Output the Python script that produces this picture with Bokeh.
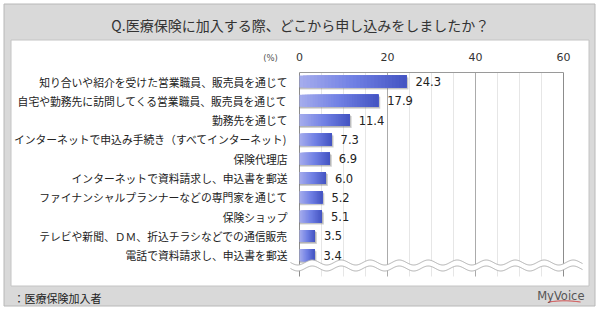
import numpy as np
from bokeh.plotting import figure
from bokeh.models import Range1d, ColumnDataSource
from bokeh.core.properties import value
from bokeh.embed import file_html
from bokeh.resources import INLINE

# ---------------- data ----------------
title_text = "Q.医療保険に加入する際、どこから申し込みをしましたか？"
categories = [
    "知り合いや紹介を受けた営業職員、販売員を通じて",
    "自宅や勤務先に訪問してくる営業職員、販売員を通じて",
    "勤務先を通じて",
    "インターネットで申込み手続き（すべてインターネット)",
    "保険代理店",
    "インターネットで資料請求し、申込書を郵送",
    "ファイナンシャルプランナーなどの専門家を通じて",
    "保険ショップ",
    "テレビや新聞、ＤＭ、折込チラシなどでの通信販売",
    "電話で資料請求し、申込書を郵送",
]
values = [24.3, 17.9, 11.4, 7.3, 6.9, 6.0, 5.2, 5.1, 3.5, 3.4]
major_ticks = [0, 20, 40, 60]
major_labels = ["0", "20", "40", "60"]
minor_ticks = [5, 10, 15, 25, 30, 35, 45, 50, 55]
unit_label = "(%)"
base_note = "：医療保険加入者"
brand = "MyVoice"

# ---------------- layout helpers (pixel -> data) ----------------
W, H = 600, 312
X0, PXU = 299.0, 4.4          # pixel of x=0, pixels per unit
R0, PXR = 81.0, 19.3          # pixel of row 0 centre, pixels per row


def X(px):
    return (px - X0) / PXU


def Y(py):
    return (py - R0) / PXR


p = figure(width=W, height=H, output_backend="svg", toolbar_location=None,
           x_range=Range1d(X(0), X(W)), y_range=Range1d(Y(H), Y(0)),
           x_axis_location=None, y_axis_location=None, min_border=0)
p.min_border_left = p.min_border_right = p.min_border_top = p.min_border_bottom = 0
p.grid.visible = False
p.outline_line_color = None
p.background_fill_color = "white"
p.border_fill_color = "white"

# ---------------- panels ----------------
p.quad(left=[X(3.5)], right=[X(594.5)], top=[Y(3.5)], bottom=[Y(305.5)],
       fill_color="#d9d9d9", line_color="#b8b8b8", line_width=1)
p.quad(left=[X(10.5)], right=[X(588.5)], top=[Y(39.5)], bottom=[Y(285.5)],
       fill_color="white", line_color="#c4c4c4", line_width=1)

p.text(x=[X(300)], y=[Y(24)], text=[title_text], text_font=value("Noto Sans CJK JP"),
       text_font_size="14px", text_color="#333333", text_align="center", text_baseline="middle")

# ---------------- grid ----------------
gtop, gbot = Y(72), Y(276)
p.segment(x0=minor_ticks, x1=minor_ticks, y0=[gtop] * len(minor_ticks), y1=[gbot] * len(minor_ticks),
          line_color="#e6e6e6", line_width=1)
mid_major = [t for t in major_ticks if t not in (major_ticks[0], major_ticks[-1])]
p.segment(x0=mid_major, x1=mid_major, y0=[gtop] * len(mid_major), y1=[gbot] * len(mid_major),
          line_color="#ababab", line_width=1)
edge_major = [major_ticks[0], major_ticks[-1]]
p.segment(x0=edge_major, x1=edge_major, y0=[gtop] * 2, y1=[gbot] * 2,
          line_color="#8c8c8c", line_width=1)
p.segment(x0=[major_ticks[0]], x1=[major_ticks[-1]], y0=[gtop], y1=[gtop],
          line_color="#9a9a9a", line_width=1)

p.text(x=major_ticks, y=[Y(56)] * len(major_ticks), text=major_labels,
       text_font=value("DejaVu Sans"), text_font_size="11px", text_color="#333333",
       text_align="center", text_baseline="middle")
p.text(x=[X(270)], y=[Y(57)], text=[unit_label], text_font=value("DejaVu Sans"),
       text_font_size="8.5px", text_color="#555555", text_align="center", text_baseline="middle")

# ---------------- bars ----------------
rows = np.arange(len(values))
half = 6.0 / PXR
dx_sh = 2.0 / PXU
dy_sh = 2.0 / PXR
vals = np.array(values)

# shadow
p.quad(left=0, right=vals + dx_sh, top=rows - half + dy_sh, bottom=rows + half + dy_sh,
       fill_color="#7a7a7a", fill_alpha=0.35, line_color=None)
p.quad(left=0, right=vals + dx_sh * 0.5, top=rows - half + dy_sh * 0.5, bottom=rows + half + dy_sh * 0.5,
       fill_color="#7a7a7a", fill_alpha=0.35, line_color=None)

# gradient fill: overlapping slices (each runs to the bar end) so no seams show
stops_t = [0.0, 0.5, 1.0]
stops_c = np.array([[166, 173, 237], [112, 128, 228], [68, 84, 194]], dtype=float)
N = 30
L, R, T, B, C = [], [], [], [], []
for i, v in enumerate(values):
    for k in range(N):
        t = (k + 0.5) / N
        rgb = [int(round(np.interp(t, stops_t, stops_c[:, j]))) for j in range(3)]
        L.append(v * k / N)
        R.append(v)
        T.append(i - half)
        B.append(i + half)
        C.append("#%02x%02x%02x" % tuple(rgb))
p.quad(source=ColumnDataSource(dict(left=L, right=R, top=T, bottom=B, color=C)),
       left="left", right="right", top="top", bottom="bottom",
       fill_color="color", line_color=None)

# value labels
p.text(x=values, y=rows, text=["%.1f" % v for v in values], x_offset=9,
       text_font=value("DejaVu Sans"), text_font_size="11.5px", text_color="#222222",
       text_align="left", text_baseline="middle")

# category labels
p.text(x=[X(287)] * len(categories), y=rows, text=categories,
       text_font=value("Noto Sans CJK JP"), text_font_size="10.8px", text_color="#222222",
       text_align="right", text_baseline="middle")

# ---------------- wave break ----------------
wx = np.linspace(290, 582, 400)
phase = 2 * np.pi * (wx - 290) / 29.0
w_up = 262 + 2.5 * np.sin(phase)
w_dn = 268 + 2.5 * np.sin(phase)
p.varea(x=X(wx), y1=Y(w_up), y2=Y(w_dn), fill_color="white")
p.line(x=X(wx), y=Y(w_up), line_color="#b0b0b0", line_width=1)
p.line(x=X(wx), y=Y(w_dn), line_color="#b0b0b0", line_width=1)

# ---------------- footer ----------------
p.text(x=[X(13)], y=[Y(297)], text=[base_note], text_font=value("Noto Sans CJK JP"),
       text_font_size="11px", text_color="#222222", text_align="left", text_baseline="middle")
p.text(x=[X(584)], y=[Y(295)], text=[brand], text_font=value("DejaVu Sans"),
       text_font_size="11.5px", text_color="#555555", text_align="right", text_baseline="middle")
sx = np.linspace(548, 580, 40)
p.line(x=X(sx), y=Y(301.5 - 1.2 * np.sin(np.pi * (sx - 548) / 32)), line_color="#d04040", line_width=1)

open("out.html", "w").write(file_html(p, INLINE))
